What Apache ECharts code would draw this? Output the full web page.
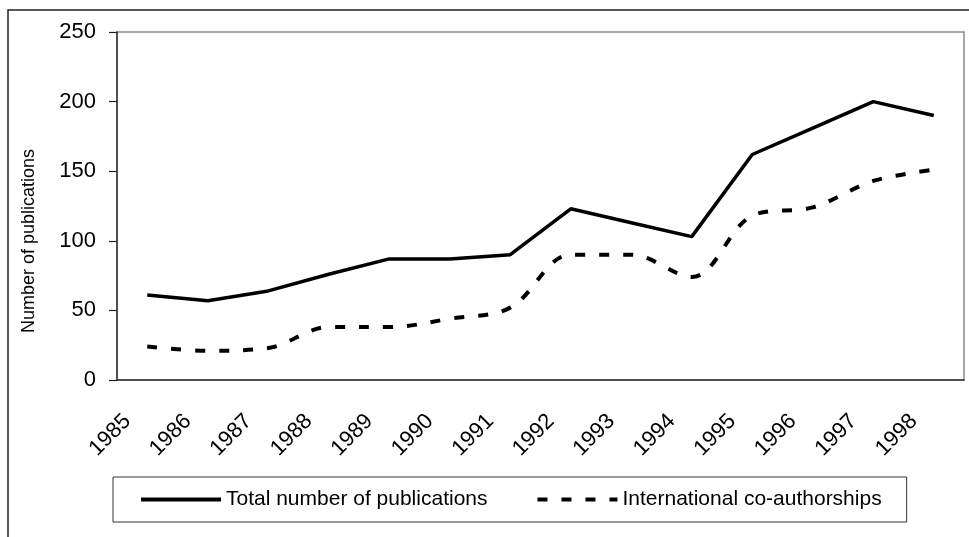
<!DOCTYPE html>
<html>
<head>
<meta charset="utf-8">
<script src="https://cdn.jsdelivr.net/npm/echarts@6/dist/echarts.min.js"></script>
<style>
  html, body { margin: 0; padding: 0; background: #fff; }
  #chart { width: 969px; height: 537px; }
</style>
</head>
<body>
<div id="chart"></div>
<script>
// data
const years = ['1985', '1986', '1987', '1988', '1989', '1990', '1991',
  '1992', '1993', '1994', '1995', '1996', '1997', '1998']
const totalPubs = [61, 57, 64, 76, 87, 87, 90, 123, 113, 103, 162, 181, 200, 190]
const intlCoauth = [24, 21, 23, 38, 38, 44, 52, 90, 90, 74, 118, 124, 143, 151]
const yTicks = [0, 50, 100, 150, 200, 250]

const font = 'Liberation Sans, Arial, sans-serif'
const chart = echarts.init(document.getElementById('chart'))

chart.setOption({
  animation: false,
  backgroundColor: '#fff',
  graphic: [
    { // outer chart frame (runs off the right and bottom edge)
      type: 'rect',
      shape: { x: 8, y: 10, width: 980, height: 560 },
      style: { fill: 'none', stroke: '#222', lineWidth: 1.5 },
      silent: true
    },
    {
      type: 'text',
      x: 29,
      y: 241,
      rotation: Math.PI / 2,
      style: {
        text: 'Number of publications',
        fontFamily: font,
        fontSize: 18,
        fill: '#000',
        align: 'center',
        verticalAlign: 'middle'
      }
    }
  ],
  grid: {
    left: 117,
    top: 32,
    right: 5,
    bottom: 157,
    show: true,
    borderColor: '#8a8a8a',
    borderWidth: 1.5
  },
  legend: {
    left: 113,
    top: 477,
    padding: [12, 25, 12, 26],
    itemGap: 48,
    itemWidth: 80,
    itemHeight: 14,
    borderColor: '#333',
    borderWidth: 1,
    itemStyle: { color: 'rgba(0,0,0,0)', borderWidth: 0 },
    lineStyle: { width: 4 },
    textStyle: { fontFamily: font, fontSize: 21, color: '#000' },
    data: ['Total number of publications', 'International co-authorships']
  },
  xAxis: {
    type: 'category',
    data: years,
    boundaryGap: true,
    axisLine: { lineStyle: { color: '#333', width: 1.5 } },
    axisTick: { interval: 0, length: 7, lineStyle: { color: '#222', width: 1.2 } },
    axisLabel: {
      interval: 0,
      rotate: 45,
      margin: 18,
      padding: [0, 28, 0, 0],
      fontFamily: font,
      fontSize: 22,
      color: '#000'
    }
  },
  yAxis: {
    type: 'value',
    min: yTicks[0],
    max: yTicks[yTicks.length - 1],
    interval: 50,
    splitLine: { show: false },
    axisLine: { show: true, lineStyle: { color: '#333', width: 1.5 } },
    axisTick: { show: true, length: 8, lineStyle: { color: '#222', width: 1.2 } },
    axisLabel: {
      margin: 21,
      fontFamily: font,
      fontSize: 22,
      color: '#000'
    }
  },
  series: [
    {
      name: 'Total number of publications',
      type: 'line',
      data: totalPubs,
      symbol: 'none',
      lineStyle: { color: '#000', width: 3.5 },
      itemStyle: { color: '#000' }
    },
    {
      name: 'International co-authorships',
      type: 'line',
      data: intlCoauth,
      symbol: 'none',
      smooth: 0.35,
      lineStyle: { color: '#000', width: 4, type: [10, 14] },
      itemStyle: { color: '#000' }
    }
  ]
})
</script>
</body>
</html>
